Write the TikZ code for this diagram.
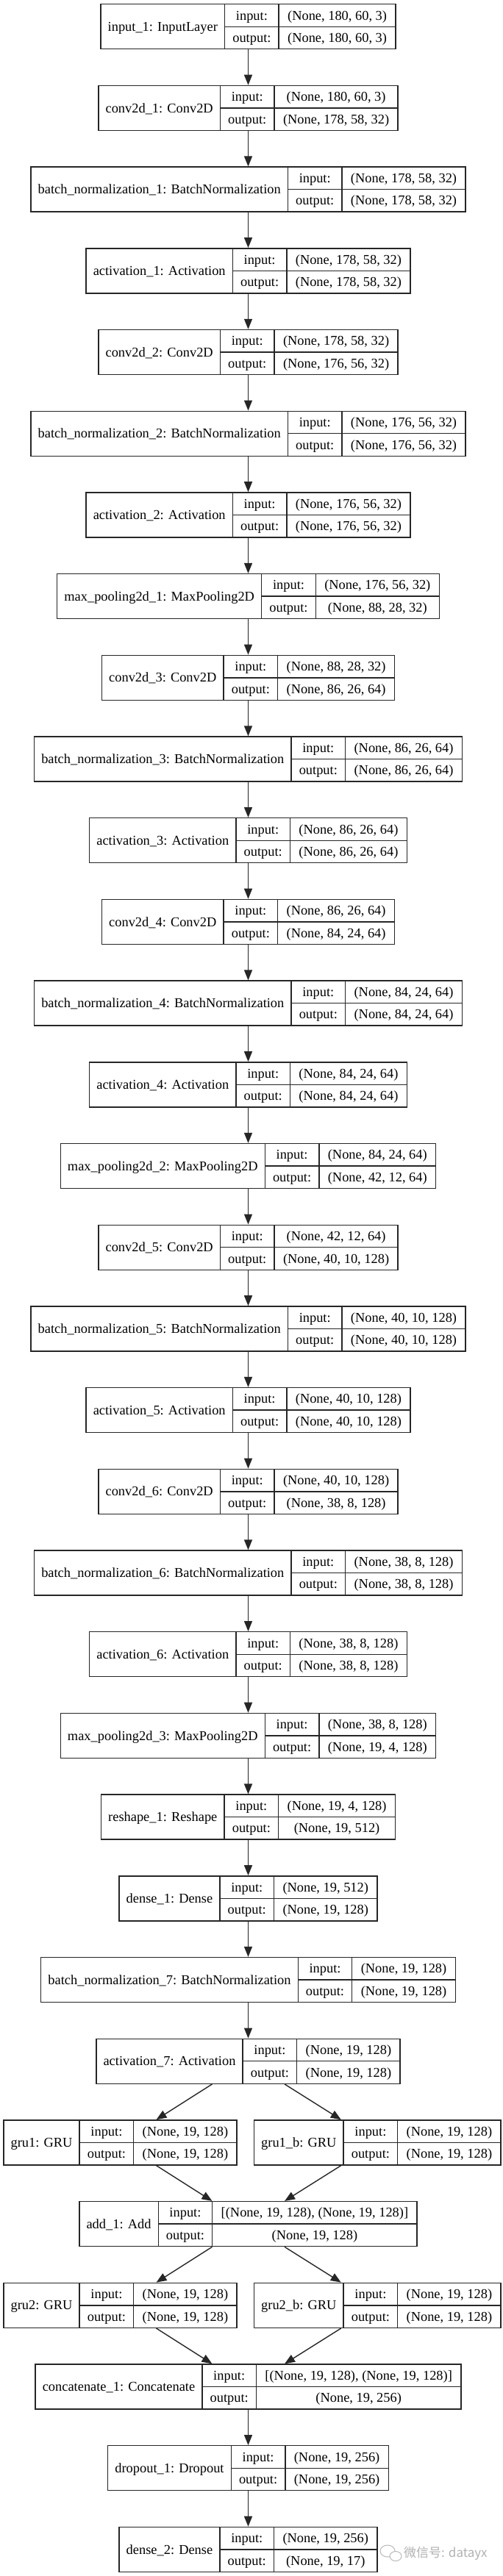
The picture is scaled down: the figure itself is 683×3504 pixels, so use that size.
\documentclass[tikz,border=0pt]{standalone}
\usepackage{fontspec}
\setmainfont{Liberation Serif}
\newfontfamily\cjk{Noto Sans CJK SC}
\usetikzlibrary{arrows.meta}
\newlength\kLw \newlength\kRw \newlength\kTmp
\newcommand\kfont{\fontsize{18.4}{22}\selectfont}
\tikzset{
  box/.style={draw=black!85, line width=1.4pt, inner sep=0pt, minimum height=61pt},
  rule/.style={draw=black!85, line width=1.4pt},
  txt/.style={inner sep=0pt, font=\kfont, text height=12.2pt, text depth=0pt, text=black},
  arr/.style={draw=black!85, line width=1.4pt, -{Triangle[length=14pt,width=11pt]}},
  wm/.style={draw=gray!55, line width=1pt},
}
\makeatletter
\let\kstrip\strip@pt
\makeatother
% measuring pass (run outside the picture): #1 name, #2 label, #3 in, #4 out
\newcommand\kmeasure[6]{%
  \settowidth\kLw{\kfont #2}\addtolength\kLw{19.5pt}%
  \settowidth\kRw{\kfont #3}\settowidth\kTmp{\kfont #4}%
  \ifdim\kTmp>\kRw \setlength\kRw{\kTmp}\fi
  \addtolength\kRw{24pt}%
  \expandafter\xdef\csname kL@#1\endcsname{\kstrip\kLw}%
  \expandafter\xdef\csname kR@#1\endcsname{\kstrip\kRw}%
}
% drawing pass: #5 centre x, #6 level
\newcommand\kdraw[6]{%
  \edef\kLv{\csname kL@#1\endcsname}%
  \edef\kRv{\csname kR@#1\endcsname}%
  \pgfmathsetmacro\kW{\kLv+73.5+\kRv}%
  \pgfmathsetmacro\ky{36.2+#6*110.7}%
  \pgfmathsetmacro\kxl{#5-\kW/2}%
  \pgfmathsetmacro\kxa{\kxl+\kLv}%
  \pgfmathsetmacro\kxb{\kxa+73.5}%
  \pgfmathsetmacro\kxr{\kxl+\kW}%
  \node[box, minimum width=\kW pt] (#1) at (#5,\ky) {};
  \draw[rule] (\kxa,\ky-30.5) -- (\kxa,\ky+30.5);
  \draw[rule] (\kxb,\ky-30.5) -- (\kxb,\ky+30.5);
  \draw[rule] (\kxa,\ky) -- (\kxr,\ky);
  \node[txt] (#1-l) at ({(\kxl+\kxa)/2},\ky) {#2};
  \node[txt] (#1-ik) at ({(\kxa+\kxb)/2},\ky-15.25) {input:};
  \node[txt] (#1-ok) at ({(\kxa+\kxb)/2},\ky+15.25) {output:};
  \node[txt] (#1-iv) at ({(\kxb+\kxr)/2},\ky-15.25) {#3};
  \node[txt] (#1-ov) at ({(\kxb+\kxr)/2},\ky+15.25) {#4};
}
\newcommand\klayers{%
\klayer{in1}{input\_1: InputLayer}{(None, 180, 60, 3)}{(None, 180, 60, 3)}{337.5}{0}%
\klayer{c1}{conv2d\_1: Conv2D}{(None, 180, 60, 3)}{(None, 178, 58, 32)}{337.5}{1}%
\klayer{b1}{batch\_normalization\_1: BatchNormalization}{(None, 178, 58, 32)}{(None, 178, 58, 32)}{337.5}{2}%
\klayer{a1}{activation\_1: Activation}{(None, 178, 58, 32)}{(None, 178, 58, 32)}{337.5}{3}%
\klayer{c2}{conv2d\_2: Conv2D}{(None, 178, 58, 32)}{(None, 176, 56, 32)}{337.5}{4}%
\klayer{b2}{batch\_normalization\_2: BatchNormalization}{(None, 176, 56, 32)}{(None, 176, 56, 32)}{337.5}{5}%
\klayer{a2}{activation\_2: Activation}{(None, 176, 56, 32)}{(None, 176, 56, 32)}{337.5}{6}%
\klayer{m1}{max\_pooling2d\_1: MaxPooling2D}{(None, 176, 56, 32)}{(None, 88, 28, 32)}{337.5}{7}%
\klayer{c3}{conv2d\_3: Conv2D}{(None, 88, 28, 32)}{(None, 86, 26, 64)}{337.5}{8}%
\klayer{b3}{batch\_normalization\_3: BatchNormalization}{(None, 86, 26, 64)}{(None, 86, 26, 64)}{337.5}{9}%
\klayer{a3}{activation\_3: Activation}{(None, 86, 26, 64)}{(None, 86, 26, 64)}{337.5}{10}%
\klayer{c4}{conv2d\_4: Conv2D}{(None, 86, 26, 64)}{(None, 84, 24, 64)}{337.5}{11}%
\klayer{b4}{batch\_normalization\_4: BatchNormalization}{(None, 84, 24, 64)}{(None, 84, 24, 64)}{337.5}{12}%
\klayer{a4}{activation\_4: Activation}{(None, 84, 24, 64)}{(None, 84, 24, 64)}{337.5}{13}%
\klayer{m2}{max\_pooling2d\_2: MaxPooling2D}{(None, 84, 24, 64)}{(None, 42, 12, 64)}{337.5}{14}%
\klayer{c5}{conv2d\_5: Conv2D}{(None, 42, 12, 64)}{(None, 40, 10, 128)}{337.5}{15}%
\klayer{b5}{batch\_normalization\_5: BatchNormalization}{(None, 40, 10, 128)}{(None, 40, 10, 128)}{337.5}{16}%
\klayer{a5}{activation\_5: Activation}{(None, 40, 10, 128)}{(None, 40, 10, 128)}{337.5}{17}%
\klayer{c6}{conv2d\_6: Conv2D}{(None, 40, 10, 128)}{(None, 38, 8, 128)}{337.5}{18}%
\klayer{b6}{batch\_normalization\_6: BatchNormalization}{(None, 38, 8, 128)}{(None, 38, 8, 128)}{337.5}{19}%
\klayer{a6}{activation\_6: Activation}{(None, 38, 8, 128)}{(None, 38, 8, 128)}{337.5}{20}%
\klayer{m3}{max\_pooling2d\_3: MaxPooling2D}{(None, 38, 8, 128)}{(None, 19, 4, 128)}{337.5}{21}%
\klayer{r1}{reshape\_1: Reshape}{(None, 19, 4, 128)}{(None, 19, 512)}{337.5}{22}%
\klayer{d1}{dense\_1: Dense}{(None, 19, 512)}{(None, 19, 128)}{337.5}{23}%
\klayer{b7}{batch\_normalization\_7: BatchNormalization}{(None, 19, 128)}{(None, 19, 128)}{337.5}{24}%
\klayer{a7}{activation\_7: Activation}{(None, 19, 128)}{(None, 19, 128)}{337.5}{25}%
\klayer{g1}{gru1: GRU}{(None, 19, 128)}{(None, 19, 128)}{163.5}{26}%
\klayer{g1b}{gru1\_b: GRU}{(None, 19, 128)}{(None, 19, 128)}{513.3}{26}%
\klayer{add}{add\_1: Add}{[(None, 19, 128), (None, 19, 128)]}{(None, 19, 128)}{337.5}{27}%
\klayer{g2}{gru2: GRU}{(None, 19, 128)}{(None, 19, 128)}{163.5}{28}%
\klayer{g2b}{gru2\_b: GRU}{(None, 19, 128)}{(None, 19, 128)}{513.3}{28}%
\klayer{cat}{concatenate\_1: Concatenate}{[(None, 19, 128), (None, 19, 128)]}{(None, 19, 256)}{337.5}{29}%
\klayer{dr}{dropout\_1: Dropout}{(None, 19, 256)}{(None, 19, 256)}{337.5}{30}%
\klayer{d2}{dense\_2: Dense}{(None, 19, 256)}{(None, 19, 17)}{337.5}{31}%
}
\begin{document}
\let\klayer\kmeasure
\klayers
\let\klayer\kdraw
\begin{tikzpicture}[x=1pt,y=-1pt]
\useasboundingbox[fill=white] (0,0) rectangle (683,3504);
\klayers
% connectors
\foreach \a/\b in {in1/c1,c1/b1,b1/a1,a1/c2,c2/b2,b2/a2,a2/m1,m1/c3,c3/b3,b3/a3,a3/c4,c4/b4,b4/a4,a4/m2,m2/c5,c5/b5,b5/a5,a5/c6,c6/b6,b6/a6,a6/m3,m3/r1,r1/d1,d1/b7,b7/a7,a7/g1,a7/g1b,g1/add,g1b/add,add/g2,add/g2b,g2/cat,g2b/cat,cat/dr,dr/d2}
  \draw[arr] (\a) -- (\b);
% watermark
\draw[wm] (527,3470) ellipse (10 and 8);
\draw[wm, fill=white] (538,3477) ellipse (8 and 6.5);
\node[anchor=west, inner sep=0pt, text=gray!60, font=\fontsize{17}{20}\selectfont\cjk] (wmark) at (549,3473) {微信号: datayx};
\end{tikzpicture}
\end{document}
